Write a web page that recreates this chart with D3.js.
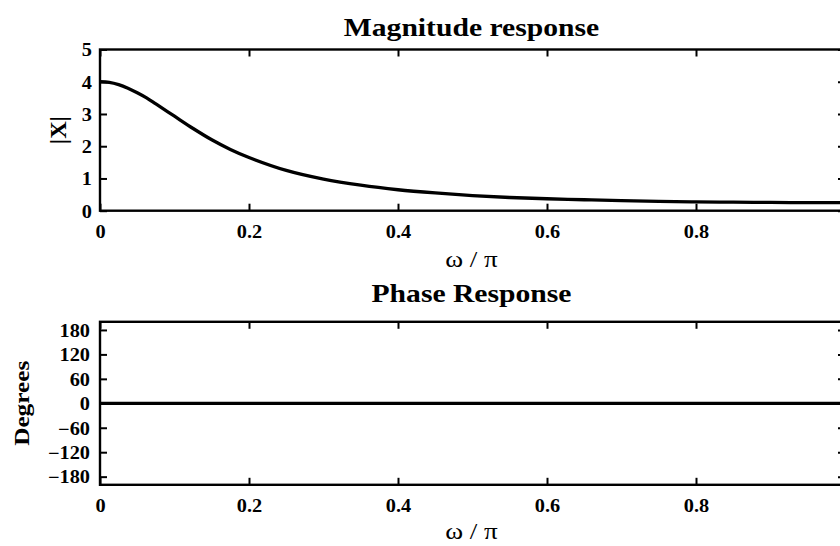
<!DOCTYPE html>
<html><head><meta charset="utf-8">
<script src="https://cdn.jsdelivr.net/npm/d3@7"></script>
<style>body{margin:0;background:#fff;} svg{display:block;}</style>
</head><body>
<svg id="c" width="840" height="546"></svg>
<script>
// Frequency grid (ω/π) and values
const omega = [0,0.0125,0.025,0.0375,0.05,0.0625,0.075,0.0875,0.1,0.125,0.15,0.175,0.2,0.25,0.3,0.35,0.4,0.45,0.5,0.55,0.6,0.65,0.7,0.75,0.8,0.85,0.9,0.95,1.0];
const magnitude = [4.00,3.98,3.91,3.80,3.66,3.50,3.31,3.12,2.93,2.55,2.20,1.90,1.65,1.25,0.98,0.79,0.65,0.55,0.47,0.41,0.37,0.34,0.31,0.29,0.275,0.263,0.256,0.251,0.25];
const phaseOmega = [0, 1.0];
const phaseDeg = [0, 0];
const xTicks = [0,0.2,0.4,0.6,0.8,1];
const xTickLabels = ["0","0.2","0.4","0.6","0.8","1"];
const magTicks = [0,1,2,3,4,5];
const phaseTicks = [-180,-120,-60,0,60,120,180];
const phaseTickLabels = ["\u2212180","\u2212120","\u221260","0","60","120","180"];

const svg = d3.select("#c");
const serif = "'Liberation Serif','Times New Roman',serif";
const SX = 1.13; // horizontal widening of glyphs, as in the reference
const left = 100, right = 845;
const x = d3.scaleLinear().domain([0,1]).range([left,right]);

function widen(sel) {
  sel.each(function() {
    const t = d3.select(this);
    const x0 = +t.attr("x") || 0, y0 = +t.attr("y") || 0;
    t.attr("transform", `translate(${x0},${y0}) scale(${SX},1) translate(${-x0},${-y0})`);
  });
}

function panel(top, bottom, yDomain, yTicks, yLabels, title, ylabel, ylabelX, ylabelSize, ylabelSX, xs, ys, titleY, tickY, xlabY, yPad) {
  const y = d3.scaleLinear().domain(yDomain).range([bottom, top]);
  const g = svg.append("g");
  g.append("path")
    .datum(xs.map((d,i)=>[d, ys[i]]))
    .attr("fill","none").attr("stroke","#000").attr("stroke-width",3.3)
    .attr("d", d3.line().x(d=>x(d[0])).y(d=>y(d[1])).curve(d3.curveCatmullRom));
  const xb = g.append("g").attr("transform",`translate(0,${bottom})`)
    .call(d3.axisBottom(x).tickValues(xTicks).tickSize(-7).tickPadding(0).tickFormat((d,i)=>xTickLabels[i]));
  xb.selectAll("text").attr("y", tickY - bottom).attr("dy",0);
  g.append("g").attr("transform",`translate(0,${top})`)
    .call(d3.axisTop(x).tickValues(xTicks).tickSize(-7).tickFormat(""));
  const yl = g.append("g").attr("transform",`translate(${left},0)`)
    .call(d3.axisLeft(y).tickValues(yTicks).tickSize(-7).tickPadding(yPad).tickFormat((d,i)=>yLabels[i]));
  g.append("g").attr("transform",`translate(${right},0)`)
    .call(d3.axisRight(y).tickValues(yTicks).tickSize(-7).tickFormat(""));
  g.selectAll(".domain").remove();
  g.selectAll(".tick line").attr("stroke","#000").attr("stroke-width",2);
  g.selectAll(".tick text").attr("font-family",serif).attr("font-weight","bold").attr("font-size",18).attr("fill","#000");
  yl.selectAll("text").attr("dy","0.35em");
  widen(g.selectAll(".tick text"));
  g.append("rect").attr("x",left).attr("y",top).attr("width",right-left).attr("height",bottom-top)
    .attr("fill","none").attr("stroke","#000").attr("stroke-width",2.4);
  const cx = (left+right)/2 - 1;
  g.append("text").attr("x",cx).attr("y",titleY).attr("text-anchor","middle")
    .attr("font-family",serif).attr("font-weight","bold").attr("font-size",26)
    .attr("transform",`translate(${cx},0) scale(1.14,1) translate(${-cx},0)`).text(title);
  g.append("text").attr("x",cx).attr("y",xlabY).attr("text-anchor","middle")
    .attr("font-family",serif).attr("font-size",23)
    .attr("transform",`translate(${cx},0) scale(1.18,1) translate(${-cx},0)`).text("\u03c9 / \u03c0");
  g.append("text").attr("transform",`translate(${ylabelX},${(top+bottom)/2}) rotate(-90) scale(${ylabelSX},1)`)
    .attr("text-anchor","middle").attr("font-family",serif).attr("font-weight","bold")
    .attr("font-size",ylabelSize).text(ylabel);
}

panel(49.5, 210.7, [0,5], magTicks, magTicks.map(String), "Magnitude response", "|X|", 66, 23, 1.05, omega, magnitude, 36.5, 238, 267, 8);
panel(321.8, 484.8, [-200,200], phaseTicks, phaseTickLabels, "Phase Response", "Degrees", 29, 22, 1.15, phaseOmega, phaseDeg, 302, 512, 539, 10);
</script>
</body></html>
